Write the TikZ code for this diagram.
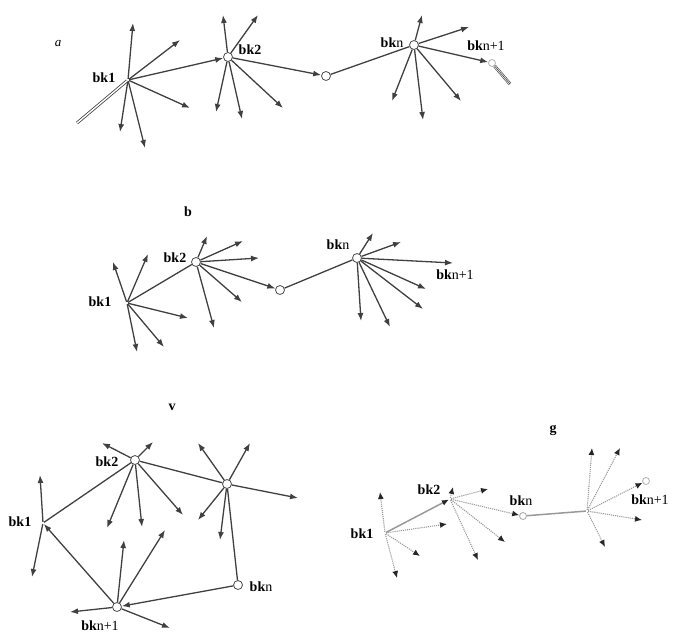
\documentclass[tikz,border=0pt]{standalone}
\usepackage{fontspec}
\setmainfont{Liberation Serif}
\usetikzlibrary{arrows.meta,positioning,calc}

\tikzset{
  hub/.style={circle, inner sep=0pt, minimum size=2pt},
  knot/.style={circle, draw=black!70, fill=white, inner sep=0pt, minimum size=9pt, line width=0.8pt},
  spoke/.style={-{Latex[length=8pt,width=6pt]}, line width=1.3pt, black!75},
  link/.style={line width=1.3pt, black!75},
  faint/.style={-{Latex[length=7pt,width=6pt,color=black!85]}, line width=1.1pt, black!40, densely dotted},
  lbl/.style={font=\fontsize{14pt}{14pt}\selectfont\bfseries, inner sep=1pt},
}

\begin{document}
\begin{tikzpicture}[x=1pt, y=-1pt]
\useasboundingbox (0,0) rectangle (677,635);

% --- a
\node (alab) at (58,44) {\fontsize{13pt}{13pt}\selectfont\itshape a};
\node [hub] (a1) at (128,80) {};
\node [knot] (a2) at (228,57) {};
\node [knot] (ac) at (326,76) {};
\node [knot] (an) at (414,45) {};
\node [knot, minimum size=7pt, draw=black!30] (ap) at (492,63) {};
\node [lbl] (a1l) at ($ (a1) + (-24,-2) $) {bk1};
\node [lbl] (a2l) at ($ (a2) + (22,-7) $) {bk2};
\node [lbl] (anl) at ($ (an) + (-22,-2) $) {bk\textmd{n}};
\node [lbl] (apl) at ($ (ap) + (-6,-17) $) {bk\textmd{n+1}};

\foreach \p [count=\i] in {(133,23),(180,40),(190,108),(120,132),(145,148)}
  \draw [spoke] (a1) -- \p coordinate (a1s\i);
\foreach \p [count=\i] in {(223,15),(258,15),(216,112),(242,119),(283,108)}
  \draw [spoke] (a2) -- \p coordinate (a2s\i);
\foreach \p [count=\i] in {(422,15),(469,27),(392,101),(423,120),(461,101)}
  \draw [spoke] (an) -- \p coordinate (ans\i);
\draw [spoke] (a1) -- (a2);
\draw [spoke] (a2) -- (ac);
\draw [link] (ac) -- (an);
\draw [spoke] (an) -- (ap);
\coordinate (a1t) at (77,123);
\draw [link, double=white, double distance=1.4pt, line width=0.8pt] (a1) -- (a1t);
\coordinate (apt) at (510,84);
\draw [link, double=white, double distance=2pt, line width=0.6pt] (ap) -- (apt);
\draw [link, line width=0.6pt] (ap) -- (apt);

% --- b
\node [lbl] (blab) at (188,212) {b};
\node [hub] (b1) at (127,303) {};
\node [knot] (b2) at (196,262) {};
\node [knot] (bc) at (280,290) {};
\node [knot] (bn) at (357,258) {};
\node [lbl] (b1l) at ($ (b1) + (-27,-1) $) {bk1};
\node [lbl] (b2l) at ($ (b2) + (-21,-4) $) {bk2};
\node [lbl] (bnl) at ($ (bn) + (-19,-13) $) {bk\textmd{n}};
\node [lbl] (bpl) at (455,275) {bk\textmd{n+1}};

\foreach \p [count=\i] in {(113,262),(148,254),(188,318),(137,352),(164,347)}
  \draw [spoke] (b1) -- \p coordinate (b1s\i);
\foreach \p [count=\i] in {(207,236),(243,241),(259,258),(242,302),(214,328)}
  \draw [spoke] (b2) -- \p coordinate (b2s\i);
\foreach \p [count=\i] in {(373,233),(401,242),(453,263),(426,289),(423,309),(361,321),(390,327)}
  \draw [spoke] (bn) -- \p coordinate (bns\i);
\draw [link] (b1) -- (b2);
\draw [spoke] (b2) -- (bc);
\draw [link] (bc) -- (bn);

% --- v
\node [lbl] (vlab) at (172,407) {v};
\node [hub] (v1) at (43,523) {};
\node [knot] (v2) at (135,460) {};
\node [knot] (v3) at (227,484) {};
\node [knot] (vn) at (238,585) {};
\node [knot] (vp) at (117,607) {};
\node [lbl] (v1l) at ($ (v1) + (-23,-1) $) {bk1};
\node [lbl] (v2l) at ($ (v2) + (-28,2) $) {bk2};
\node [lbl] (vnl) at ($ (vn) + (23,2) $) {bk\textmd{n}};
\node [lbl] (vpl) at ($ (vp) + (-17,19) $) {bk\textmd{n+1}};

\foreach \p [count=\i] in {(40,475),(32,577)}
  \draw [spoke] (v1) -- \p coordinate (v1s\i);
\foreach \p [count=\i] in {(102,443),(153,442),(107,528),(142,527),(183,515)}
  \draw [spoke] (v2) -- \p coordinate (v2s\i);
\foreach \p [count=\i] in {(198,443),(250,443),(298,498),(198,520),(220,540)}
  \draw [spoke] (v3) -- \p coordinate (v3s\i);
\foreach \p [count=\i] in {(124,540),(165,530),(70,612),(170,628)}
  \draw [spoke] (vp) -- \p coordinate (vps\i);
\draw [link] (v2) -- (v1);
\draw [link] (v2) -- (v3);
\draw [link] (v3) -- (vn);
\draw [spoke] (vn) -- (vp);
\draw [spoke] (vp) -- (v1);

% --- g
\node [lbl] (glab) at (553,430) {g};
\node [hub] (g1) at (385,533) {};
\node [hub] (g2) at (450,499) {};
\node [knot, minimum size=7pt, draw=black!35] (gn) at (523,516) {};
\node [hub] (g3) at (587,511) {};
\node [knot, minimum size=7pt, draw=black!30] (gp) at (646,481) {};
\node [lbl] (g1l) at ($ (g1) + (-23,1) $) {bk1};
\node [lbl] (g2l) at ($ (g2) + (-21,-9) $) {bk2};
\node [lbl] (gnl) at ($ (gn) + (-2,-15) $) {bk\textmd{n}};
\node [lbl] (gpl) at (650,500) {bk\textmd{n+1}};

\foreach \p [count=\i] in {(380,492),(447,524),(420,556),(397,578)}
  \draw [faint] (g1) -- \p coordinate (g1s\i);
\foreach \p [count=\i] in {(453,487),(488,489),(478,560),(505,542)}
  \draw [faint] (g2) -- \p coordinate (g2s\i);
\foreach \p [count=\i] in {(592,448),(620,448),(642,520),(605,547)}
  \draw [faint] (g3) -- \p coordinate (g3s\i);
\draw [faint, solid, line width=1.5pt] (g1) -- (g2);
\draw [faint] (g2) -- (gn);
\draw [link, black!40, line width=1.5pt] (gn) -- (g3);
\draw [faint] (g3) -- (gp);
\end{tikzpicture}
\end{document}
